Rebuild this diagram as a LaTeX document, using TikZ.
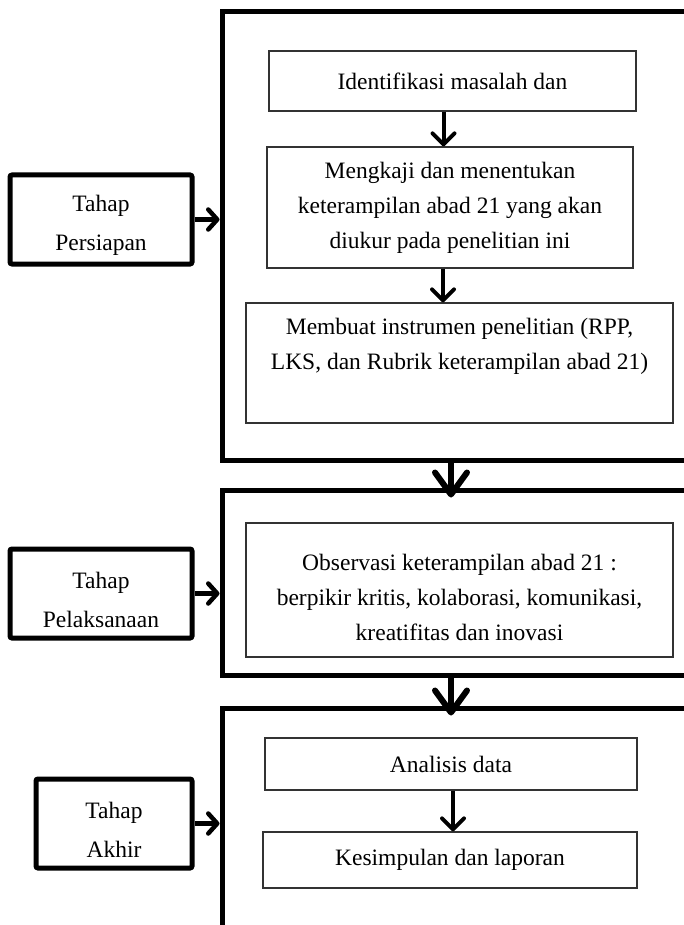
\documentclass[tikz,border=0pt]{standalone}
\usepackage{fontspec}
\setmainfont{Liberation Serif}
\usetikzlibrary{arrows.meta}

\begin{document}
\begin{tikzpicture}[
        % 座標單位:一個單位約等於一個像素
        x=1pt, y=-1pt,
        % 左側階段方框:粗框、小圓角
        phase_box/.style={
            draw=black,
            line width=5pt,
            rounded corners=2pt,
            minimum height=89pt,
            inner sep=0pt
        },
        % 右側大外框
        frame_box/.style={
            draw=black,
            line width=5pt,
            inner sep=0pt
        },
        % 內部步驟方框:細框
        step_box/.style={
            draw=black!80,
            line width=1.3pt,
            inner sep=0pt,
            align=center,
            font=\fontsize{23.5}{35}\selectfont
        },
        % 方框內的文字(可上下微調)
        label_text/.style={
            align=center,
            inner sep=0pt,
            font=\fontsize{23.5}{35}\selectfont
        },
        phase_text/.style={
            label_text,
            font=\fontsize{23.5}{39}\selectfont,
            yshift=-6pt
        },
        % 步驟之間的小箭頭
        step_arrow/.style={
            line width=4pt,
            -{Straight Barb[round, length=11pt, width=22pt]}
        },
        % 階段方框指向外框的箭頭
        side_arrow/.style={
            line width=4.5pt,
            -{Straight Barb[round, length=9pt, width=20pt]}
        },
        % 外框之間的大箭頭
        big_arrow/.style={
            line width=6pt,
            -{Straight Barb[round, length=22pt, width=32pt]}
        }
    ]

    % --- 畫布範圍 ---
    \useasboundingbox (0,0) rectangle (684,925);
    \clip (0,0) rectangle (684,925);

    % --- 右側三個大外框 ---
    \node[frame_box, minimum width=498pt, minimum height=448pt] (fase1) at (471,236) {};
    \node[frame_box, minimum width=498pt, minimum height=185pt] (fase2) at (471,582.5) {};
    \node[frame_box, minimum width=498pt, minimum height=252pt] (fase3) at (471,834) {};

    % --- 左側階段 ---
    \node[phase_box, minimum width=182pt, label={[phase_text]center:{Tahap\\Persiapan}}] (persiapan) at (101,219.5) {};
    \node[phase_box, minimum width=182pt, label={[phase_text]center:{Tahap\\Pelaksanaan}}] (pelaksanaan) at (101,593.5) {};
    \node[phase_box, minimum width=156pt, label={[phase_text]center:{Tahap\\Akhir}}] (akhir) at (114,823.5) {};

    % --- 第一階段的步驟 ---
    \node[step_box, minimum width=367pt, minimum height=60pt] (identifikasi) at (452.5,81) {Identifikasi masalah dan};
    \node[step_box, minimum width=366pt, minimum height=121pt] (mengkaji) at (450,207.5)
        {Mengkaji dan menentukan\\keterampilan abad 21 yang akan\\diukur pada penelitian ini};
    \node[step_box, minimum width=427pt, minimum height=120pt,
        label={[label_text, yshift=17pt]center:{Membuat instrumen penelitian (RPP,\\LKS, dan Rubrik keterampilan abad 21)}}]
        (instrumen) at (459.5,363) {};

    % --- 第二階段的步驟 ---
    \node[step_box, minimum width=427pt, minimum height=134pt,
        label={[label_text, yshift=-7pt]center:{Observasi keterampilan abad 21 :\\berpikir kritis, kolaborasi, komunikasi,\\kreatifitas dan inovasi}}]
        (observasi) at (459.5,590) {};

    % --- 第三階段的步驟 ---
    \node[step_box, minimum width=372pt, minimum height=52pt] (analisis) at (451,764) {Analisis data};
    \node[step_box, minimum width=374pt, minimum height=56pt] (kesimpulan) at (450,860) {Kesimpulan dan laporan};

    % --- 箭頭 ---
    \draw[step_arrow] ([xshift=-9pt]identifikasi.south) -- ([xshift=-9pt]identifikasi.south |- mengkaji.north);
    \draw[step_arrow] ([xshift=-7pt]mengkaji.south) -- ([xshift=-7pt]mengkaji.south |- instrumen.north);
    \draw[step_arrow] ([xshift=2pt]analisis.south) -- ([xshift=2pt]analisis.south |- kesimpulan.north);

    \draw[side_arrow] (persiapan.east) -- (persiapan.east -| fase1.west);
    \draw[side_arrow] (pelaksanaan.east) -- (pelaksanaan.east -| fase2.west);
    \draw[side_arrow] (akhir.east) -- (akhir.east -| fase3.west);

    \draw[big_arrow] ([xshift=-20pt,yshift=2pt]fase1.south) -- ([xshift=-20pt,yshift=-10pt]fase2.north);
    \draw[big_arrow] ([xshift=-20pt,yshift=2pt]fase2.south) -- ([xshift=-20pt,yshift=-10pt]fase3.north);
\end{tikzpicture}
\end{document}
